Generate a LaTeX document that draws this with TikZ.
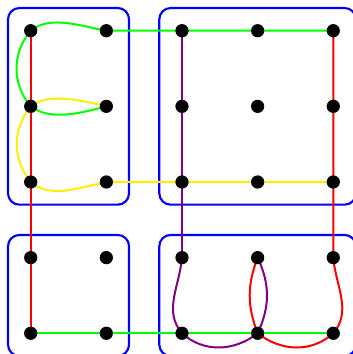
\documentclass[tikz,border=0pt]{standalone}
\usepackage{xcolor}
\usepackage{tikz}
\usetikzlibrary{backgrounds}
\definecolor{gridblue}{RGB}{0,0,255}
\definecolor{routered}{RGB}{255,0,0}
\definecolor{routegreen}{RGB}{0,255,0}
\definecolor{routeyellow}{RGB}{255,238,0}
\definecolor{routepurple}{RGB}{128,0,128}

\begin{document}
\begin{tikzpicture}[x=2cm, y=2cm, line cap=round, line join=round,
  dot/.style={circle, fill=black, inner sep=0pt, minimum size=0.35cm},
  block/.style={gridblue, line width=1.6pt, rounded corners=0.3cm},
  route/.style={line width=1.5pt}]
  \path[use as bounding box] (-0.406,-4.274) rectangle (4.260,0.406);

  % Grid points
  \foreach \c in {0,...,4} {
    \foreach \r in {0,...,4} {
      \node[dot] (d\c\r) at (\c,-\r) {};
    }
  }

  \begin{scope}[on background layer]
  % Blocks
  \draw[block] (-0.3,0.3) rectangle (1.3,-2.3);
  \draw[block] (1.7,0.3) rectangle (4.3,-2.3);
  \draw[block] (-0.3,-2.7) rectangle (1.3,-4.3);
  \draw[block] (1.7,-2.7) rectangle (4.3,-4.3);

  % Red routes
  \draw[route, routered] (d00.center) -- (d04.center);
  \draw[route, routered] (d40.center) -- (d43.center)
    to[out=-85, in=50] (d44.center)
    to[out=222, in=-38] (d34.center)
    to[out=111, in=-111] (d33.center);

  % Purple route
  \draw[route, routepurple] (d20.center) -- (d23.center)
    to[out=-95, in=130] (d24.center)
    to[out=-42, in=218] (d34.center)
    to[out=65, in=-65] (d33.center);

  % Green routes
  \draw[route, routegreen] (d11.center)
    to[out=195, in=-37, looseness=0.85] (d01.center)
    to[out=130, in=230] (d00.center)
    to[out=40, in=170, looseness=0.85] (d10.center)
    -- (d40.center);
  \draw[route, routegreen] (d04.center) -- (d44.center);

  % Yellow route
  \draw[route, routeyellow] (d11.center)
    to[out=166, in=40, looseness=0.75] (d01.center)
    to[out=231, in=129] (d02.center)
    to[out=-41, in=191, looseness=0.9] (d12.center)
    -- (d42.center);
  \end{scope}

\end{tikzpicture}
\end{document}
